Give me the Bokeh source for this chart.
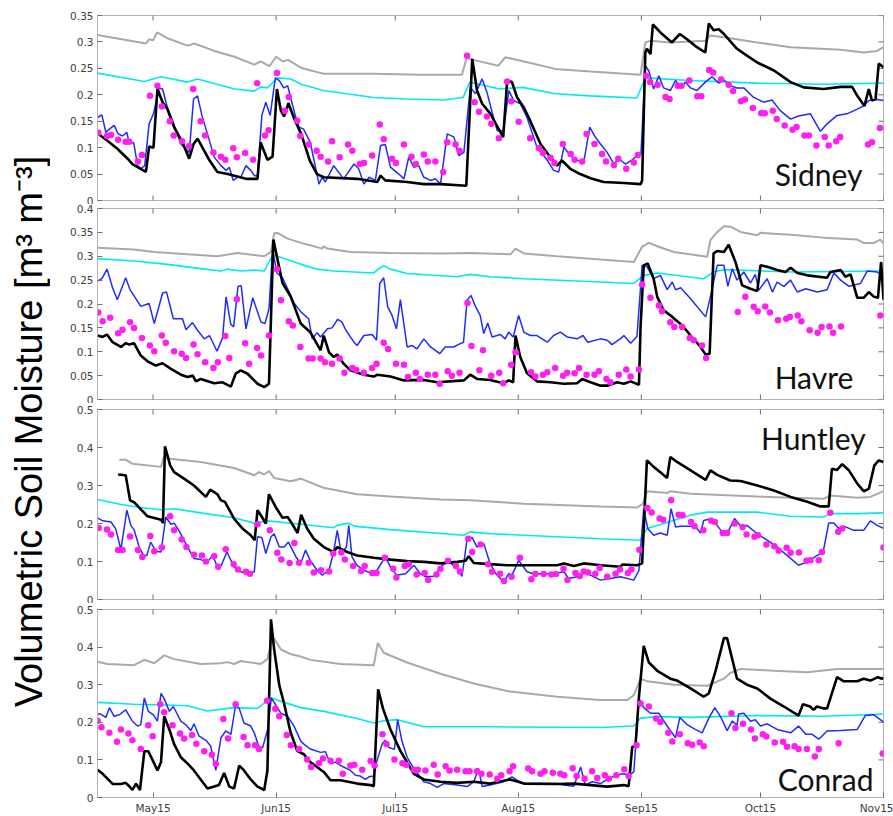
import math
from bokeh.plotting import figure
from bokeh.layouts import column, row
from bokeh.models import Range1d, FixedTicker, LinearAxis, Label
from bokeh.embed import file_html
from bokeh.resources import INLINE

# ---------------- axis data ----------------
x_ticks = [14, 45, 75, 106, 137, 167, 198]          # days after May 1
x_tick_labels = ["May15", "Jun15", "Jul15", "Aug15", "Sep15", "Oct15", "Nov15"]

sidney_yticks = [0, 0.05, 0.1, 0.15, 0.2, 0.25, 0.3, 0.35]
sidney_ylabels = ["0", "0.05", "0.1", "0.15", "0.2", "0.25", "0.3", "0.35"]
havre_yticks = [0, 0.05, 0.1, 0.15, 0.2, 0.25, 0.3, 0.35, 0.4]
havre_ylabels = ["0", "0.05", "0.1", "0.15", "0.2", "0.25", "0.3", "0.35", "0.4"]
huntley_yticks = [0, 0.1, 0.2, 0.3, 0.4, 0.5]
huntley_ylabels = ["0", "0.1", "0.2", "0.3", "0.4", "0.5"]
conrad_yticks = [0, 0.1, 0.2, 0.3, 0.4, 0.5]
conrad_ylabels = ["0", "0.1", "0.2", "0.3", "0.4", "0.5"]

stations = ["Sidney", "Havre", "Huntley", "Conrad"]
y_label = "Volumetric Soil Moisture [m\u00b3 m\u207b\u00b3]"

# ---------------- Sidney ----------------
sidney_gray = [(0,0.313),(12.2,0.297),(13.0,0.305),(14.0,0.303),(15.0,0.318),(17.6,0.307),(22.7,0.293),(24.4,0.297),(29.4,0.283),(34.5,0.272),(39.5,0.257),(41.1,0.263),(43.3,0.254),(45.0,0.272),(46.7,0.263),(48.0,0.266),(51.3,0.251),(53.7,0.246),(56.9,0.240),(69.5,0.240),(81.3,0.238),(91.8,0.238),(93.0,0.270),(94.6,0.266),(101.0,0.255),(102.7,0.271),(106.9,0.264),(115.3,0.249),(124.2,0.244),(136.8,0.238),(138.0,0.299),(139.3,0.302),(144.3,0.299),(153.1,0.302),(154.3,0.312),(157.8,0.309),(166.2,0.299),(174.6,0.290),(187.2,0.285),(193.0,0.280),(196.4,0.283),(198.0,0.290)]
sidney_cyan = [(0,0.241),(11.8,0.225),(16.0,0.234),(22.7,0.224),(25.2,0.230),(34.5,0.211),(39.5,0.207),(41.1,0.215),(42.8,0.213),(45.4,0.232),(48.7,0.230),(51.3,0.220),(56.9,0.208),(69.5,0.195),(77.9,0.192),(87.1,0.190),(92.1,0.195),(93.8,0.224),(101.3,0.211),(107.2,0.214),(115.3,0.202),(124.2,0.198),(135.9,0.194),(138.0,0.232),(149.4,0.227),(166.2,0.222),(182.9,0.220),(198.0,0.222)]
sidney_blue = [(0,0.157),(1.1,0.162),(2.1,0.129),(3.0,0.135),(4.2,0.142),(5.2,0.126),(6.3,0.122),(7.4,0.129),(8.0,0.107),(9.1,0.110),(10.1,0.066),(10.9,0.060),(11.9,0.066),(13.0,0.145),(14.1,0.164),(15.5,0.213),(16.4,0.211),(17.6,0.176),(18.9,0.151),(21.0,0.107),(23.1,0.091),(24.2,0.192),(25.2,0.198),(26.3,0.161),(27.7,0.126),(29.4,0.082),(31.1,0.066),(32.4,0.057),(33.2,0.063),(34.2,0.038),(35.3,0.044),(36.1,0.044),(37.4,0.066),(38.6,0.057),(39.5,0.047),(40.3,0.047),(41.4,0.161),(42.4,0.186),(43.5,0.161),(44.8,0.232),(45.8,0.227),(46.9,0.213),(47.9,0.217),(49.6,0.167),(50.7,0.139),(51.9,0.135),(53.6,0.110),(55.8,0.031),(56.6,0.044),(57.4,0.035),(59.5,0.066),(62.0,0.041),(64.6,0.069),(65.8,0.060),(67.1,0.031),(68.4,0.044),(70.0,0.038),(71.3,0.104),(72.5,0.106),(73.8,0.063),(75.9,0.050),(77.2,0.041),(78.4,0.082),(79.7,0.063),(80.9,0.066),(82.2,0.044),(83.9,0.038),(85.1,0.041),(86.4,0.031),(88.1,0.126),(89.8,0.120),(91.0,0.085),(92.3,0.091),(93.9,0.214),(95.2,0.202),(96.9,0.230),(98.1,0.205),(99.4,0.167),(100.7,0.132),(102.3,0.132),(103.6,0.208),(104.9,0.189),(106.5,0.183),(108.2,0.157),(110.7,0.101),(113.3,0.076),(114.9,0.057),(116.2,0.054),(117.5,0.101),(119.1,0.085),(120.8,0.076),(122.5,0.073),(124.0,0.139),(125.4,0.120),(126.7,0.107),(128.4,0.091),(130.1,0.069),(131.3,0.079),(133.0,0.069),(134.7,0.077),(135.9,0.085),(136.9,0.088),(138.0,0.255),(138.9,0.245),(140.1,0.211),(141.4,0.236),(142.6,0.213),(144.3,0.208),(145.6,0.227),(146.9,0.213),(148.1,0.224),(149.4,0.213),(151.0,0.208),(153.1,0.224),(154.8,0.234),(156.5,0.222),(157.8,0.228),(159.4,0.217),(161.1,0.213),(162.8,0.213),(165.3,0.195),(167.8,0.186),(169.9,0.190),(172.0,0.170),(174.6,0.154),(176.6,0.160),(179.6,0.164),(182.1,0.131),(183.8,0.145),(186.3,0.161),(188.8,0.164),(191.4,0.173),(193.0,0.179),(194.3,0.189),(196.4,0.191),(198.0,0.189)]
sidney_black = [(0,0.127),(2.5,0.113),(5.0,0.098),(7.6,0.079),(8.8,0.069),(10.1,0.063),(12.2,0.054),(13.0,0.102),(14.1,0.100),(15.1,0.211),(16.4,0.186),(17.6,0.173),(19.3,0.139),(21.4,0.110),(23.1,0.079),(24.2,0.107),(25.2,0.117),(26.9,0.094),(28.2,0.076),(30.2,0.054),(32.8,0.050),(34.5,0.047),(37.4,0.041),(40.3,0.041),(41.1,0.110),(42.8,0.077),(44.1,0.083),(45.2,0.211),(46.2,0.170),(47.0,0.159),(48.1,0.184),(49.6,0.154),(51.3,0.126),(53.5,0.075),(55.3,0.050),(57.0,0.044),(65.4,0.041),(70.5,0.035),(71.3,0.047),(72.5,0.038),(78.0,0.035),(82.2,0.031),(86.4,0.031),(92.9,0.028),(94.4,0.268),(95.6,0.208),(96.9,0.183),(99.0,0.164),(100.7,0.140),(102.2,0.120),(103.2,0.227),(104.4,0.224),(105.7,0.195),(107.4,0.176),(109.0,0.151),(111.6,0.107),(114.1,0.082),(115.8,0.066),(117.0,0.076),(119.1,0.060),(121.6,0.050),(124.2,0.042),(127.5,0.035),(132.6,0.033),(136.8,0.031),(137.2,0.038),(138.0,0.280),(138.4,0.287),(139.3,0.277),(139.9,0.333),(141.8,0.318),(144.7,0.299),(146.7,0.315),(148.5,0.305),(151.0,0.290),(153.1,0.280),(154.0,0.335),(155.2,0.322),(156.5,0.324),(157.8,0.315),(161.1,0.287),(163.6,0.274),(166.2,0.261),(170.4,0.246),(174.6,0.224),(177.9,0.214),(182.9,0.211),(187.2,0.215),(190.1,0.215),(191.4,0.198),(193.2,0.179),(194.3,0.211),(195.1,0.189),(196.0,0.192),(196.8,0.259),(198.0,0.252)]
sidney_obs = [(0.2,0.128),(2.4,0.122),(3.4,0.124),(5.2,0.115),(7.1,0.111),(8.0,0.111),(10.2,0.074),(11.2,0.086),(13.2,0.198),(15.1,0.217),(16.2,0.178),(18.2,0.150),(19.2,0.123),(21.3,0.112),(23.1,0.103),(24.1,0.211),(26.0,0.150),(27.1,0.123),(29.2,0.091),(31.1,0.083),(32.2,0.077),(34.2,0.099),(35.1,0.082),(37.2,0.090),(39.2,0.077),(40.2,0.222),(42.2,0.123),(43.1,0.133),(45.2,0.241),(47.2,0.170),(48.2,0.196),(50.3,0.151),(51.1,0.122),(53.2,0.106),(55.2,0.094),(56.2,0.083),(58.1,0.074),(59.1,0.112),(61.0,0.082),(63.1,0.106),(64.2,0.094),(66.1,0.069),(67.1,0.071),(69.2,0.085),(71.1,0.144),(72.1,0.116),(74.2,0.079),(75.2,0.071),(77.2,0.106),(79.1,0.083),(80.2,0.069),(82.2,0.087),(83.2,0.074),(85.1,0.074),(87.1,0.054),(88.1,0.110),(90.2,0.106),(91.2,0.094),(93.1,0.274),(95.0,0.186),(96.1,0.168),(98.1,0.159),(99.2,0.145),(101.1,0.118),(103.2,0.225),(104.2,0.188),(106.1,0.149),(109.0,0.118),(111.2,0.099),(112.2,0.090),(114.1,0.081),(115.1,0.071),(117.2,0.107),(119.2,0.088),(120.2,0.077),(122.1,0.074),(123.2,0.126),(125.2,0.107),(127.1,0.088),(128.1,0.074),(130.1,0.067),(131.2,0.079),(133.2,0.060),(135.1,0.072),(136.1,0.086),(138.2,0.236),(139.2,0.224),(141.1,0.219),(143.1,0.196),(144.1,0.192),(146.2,0.217),(147.1,0.217),(149.1,0.227),(151.1,0.197),(152.1,0.197),(154.1,0.247),(155.1,0.242),(157.1,0.229),(159.0,0.219),(160.1,0.207),(162.1,0.188),(163.1,0.191),(165.1,0.175),(167.2,0.165),(168.1,0.165),(170.1,0.170),(171.1,0.154),(173.1,0.142),(175.1,0.134),(176.1,0.139),(178.1,0.123),(179.2,0.123),(181.1,0.104),(183.2,0.120),(184.2,0.104),(186.1,0.112),(187.1,0.120),(194.1,0.106),(195.1,0.110),(197.1,0.137)]

# ---------------- Havre ----------------
havre_gray = [(0,0.318),(9.2,0.314),(14.3,0.309),(22.7,0.304),(30.2,0.300),(35.3,0.307),(42.0,0.300),(43.7,0.309),(44.5,0.348),(45.3,0.349),(47.9,0.337),(51.3,0.328),(53.6,0.323),(56.6,0.316),(57.0,0.321),(57.9,0.316),(63.7,0.309),(73.8,0.307),(86.4,0.306),(93.9,0.307),(104.0,0.304),(105.3,0.316),(107.4,0.306),(115.8,0.300),(126.7,0.293),(135.1,0.288),(137.2,0.320),(138.9,0.328),(141.0,0.321),(145.2,0.309),(153.6,0.299),(154.4,0.334),(156.1,0.351),(157.8,0.363),(159.4,0.362),(162.0,0.351),(166.2,0.344),(167.0,0.349),(174.6,0.345),(182.9,0.339),(191.4,0.335),(193.0,0.328),(195.6,0.328),(197.2,0.335),(198.0,0.327)]
havre_cyan = [(0,0.295),(9.2,0.290),(17.6,0.283),(26.0,0.274),(31.1,0.269),(32.7,0.273),(36.1,0.269),(39.5,0.271),(42.0,0.269),(44.1,0.302),(45.3,0.300),(51.3,0.283),(55.3,0.273),(59.5,0.269),(69.6,0.265),(70.9,0.274),(72.1,0.280),(73.8,0.273),(78.0,0.264),(90.6,0.257),(93.9,0.262),(98.9,0.257),(107.4,0.253),(126.7,0.246),(135.1,0.243),(137.6,0.260),(141.0,0.265),(152.7,0.253),(155.2,0.267),(157.8,0.272),(174.6,0.267),(198.0,0.269)]
havre_blue = [(0,0.248),(1.1,0.253),(2.4,0.273),(3.8,0.234),(5.0,0.209),(7.1,0.255),(8.2,0.230),(10.9,0.195),(13.0,0.201),(14.3,0.159),(16.4,0.223),(17.4,0.225),(19.1,0.169),(21.4,0.169),(22.3,0.146),(23.9,0.161),(25.2,0.145),(26.9,0.127),(28.2,0.134),(30.1,0.101),(31.5,0.129),(32.4,0.215),(33.6,0.157),(34.3,0.152),(35.4,0.237),(36.2,0.238),(37.4,0.148),(39.1,0.213),(41.2,0.162),(42.2,0.159),(43.2,0.190),(44.1,0.314),(45.2,0.265),(46.6,0.255),(47.9,0.232),(49.6,0.201),(51.3,0.183),(53.2,0.169),(54.1,0.127),(55.3,0.140),(56.2,0.131),(57.9,0.148),(59.1,0.150),(60.5,0.168),(61.6,0.162),(62.5,0.146),(64.6,0.120),(65.4,0.113),(67.1,0.134),(69.2,0.136),(70.3,0.124),(71.1,0.243),(72.1,0.255),(73.1,0.194),(74.2,0.176),(75.3,0.148),(76.3,0.209),(78.0,0.110),(79.3,0.113),(80.5,0.106),(82.2,0.127),(83.9,0.110),(85.1,0.103),(86.2,0.096),(87.6,0.110),(89.7,0.110),(91.4,0.117),(92.2,0.120),(93.1,0.208),(94.1,0.218),(95.2,0.195),(96.4,0.176),(97.3,0.138),(98.3,0.160),(99.4,0.131),(101.5,0.136),(102.7,0.127),(103.6,0.141),(104.7,0.131),(106.1,0.176),(107.4,0.141),(109.0,0.134),(110.7,0.134),(113.3,0.120),(114.9,0.134),(116.6,0.141),(118.3,0.131),(120.8,0.127),(122.3,0.134),(123.5,0.120),(126.7,0.127),(128.4,0.124),(129.6,0.115),(131.7,0.127),(132.6,0.134),(134.3,0.118),(135.9,0.132),(137.2,0.281),(138.4,0.278),(140.1,0.253),(141.8,0.260),(143.5,0.230),(144.8,0.246),(145.6,0.230),(146.9,0.234),(149.4,0.211),(153.2,0.173),(154.4,0.215),(156.1,0.281),(157.8,0.281),(158.8,0.237),(159.9,0.274),(161.1,0.250),(162.8,0.267),(164.5,0.244),(165.7,0.262),(166.6,0.229),(168.7,0.253),(170.0,0.225),(171.2,0.246),(172.9,0.237),(174.6,0.250),(176.3,0.225),(178.4,0.232),(181.3,0.225),(183.8,0.230),(185.5,0.265),(187.2,0.250),(189.3,0.237),(192.2,0.243),(193.9,0.269),(196.4,0.267),(198.0,0.257)]
havre_black = [(0,0.134),(1.3,0.131),(2.4,0.136),(3.8,0.120),(5.9,0.110),(7.1,0.118),(8.0,0.115),(9.2,0.118),(10.9,0.092),(12.6,0.080),(14.7,0.071),(16.4,0.076),(18.5,0.064),(21.0,0.052),(22.7,0.047),(24.0,0.050),(24.8,0.038),(26.0,0.043),(29.4,0.034),(31.5,0.036),(33.6,0.027),(34.8,0.054),(36.1,0.061),(37.8,0.054),(40.3,0.033),(42.0,0.026),(43.2,0.033),(44.3,0.335),(45.3,0.295),(46.6,0.244),(48.7,0.215),(51.2,0.159),(53.6,0.141),(56.2,0.103),(57.0,0.134),(58.3,0.099),(59.5,0.089),(60.4,0.094),(62.0,0.075),(63.7,0.061),(67.1,0.052),(69.6,0.048),(70.5,0.052),(73.8,0.048),(77.2,0.040),(82.2,0.041),(85.6,0.036),(92.3,0.040),(93.9,0.052),(95.6,0.043),(98.9,0.041),(102.3,0.034),(103.6,0.040),(104.7,0.036),(105.3,0.134),(106.5,0.089),(108.2,0.055),(110.7,0.038),(114.1,0.036),(117.5,0.033),(120.8,0.034),(122.1,0.043),(124.2,0.036),(126.7,0.029),(128.4,0.029),(130.9,0.036),(132.6,0.033),(134.3,0.038),(136.4,0.031),(136.8,0.152),(137.6,0.281),(138.6,0.285),(140.1,0.253),(141.0,0.215),(142.6,0.187),(144.8,0.173),(147.3,0.155),(149.4,0.134),(151.9,0.110),(153.2,0.094),(154.2,0.096),(155.2,0.306),(156.1,0.311),(157.8,0.309),(159.0,0.324),(160.7,0.288),(162.4,0.239),(164.5,0.232),(166.2,0.227),(167.0,0.281),(168.7,0.278),(171.2,0.271),(173.3,0.267),(174.6,0.276),(176.3,0.265),(178.8,0.260),(183.8,0.255),(184.6,0.267),(187.2,0.271),(188.4,0.257),(189.7,0.262),(191.4,0.213),(193.0,0.213),(194.3,0.225),(195.6,0.215),(196.6,0.213),(197.4,0.288),(198.0,0.209)]
havre_obs = [(0.2,0.182),(1.3,0.164),(3.2,0.171),(5.2,0.139),(6.3,0.146),(8.2,0.162),(9.2,0.150),(11.2,0.129),(13.2,0.113),(14.3,0.101),(16.2,0.134),(17.2,0.119),(19.3,0.101),(21.2,0.096),(22.3,0.087),(24.2,0.115),(25.2,0.095),(27.1,0.078),(29.2,0.066),(30.3,0.078),(32.2,0.133),(33.2,0.087),(35.1,0.210),(37.2,0.118),(38.2,0.075),(40.2,0.108),(41.2,0.092),(43.2,0.134),(45.2,0.273),(46.2,0.208),(48.2,0.164),(49.2,0.155),(51.1,0.110),(53.2,0.086),(54.2,0.086),(56.2,0.086),(57.3,0.078),(59.1,0.075),(61.0,0.086),(62.2,0.056),(64.2,0.066),(65.2,0.062),(67.1,0.056),(69.2,0.066),(70.3,0.075),(72.1,0.119),(73.2,0.106),(75.2,0.075),(77.2,0.073),(78.2,0.047),(80.2,0.056),(81.2,0.043),(83.2,0.052),(85.1,0.052),(86.2,0.033),(88.2,0.059),(89.3,0.050),(91.2,0.056),(93.2,0.202),(94.2,0.112),(96.2,0.061),(97.1,0.103),(99.2,0.050),(101.2,0.056),(102.2,0.034),(104.2,0.073),(105.3,0.099),(109.2,0.057),(110.3,0.048),(112.2,0.052),(113.3,0.057),(115.3,0.066),(117.3,0.050),(118.3,0.056),(120.2,0.055),(121.3,0.066),(123.2,0.052),(125.2,0.052),(126.3,0.059),(128.2,0.043),(129.2,0.036),(131.3,0.052),(133.2,0.063),(134.3,0.048),(136.4,0.063),(137.2,0.241),(139.3,0.213),(141.4,0.197),(142.2,0.185),(144.3,0.162),(145.3,0.152),(147.3,0.152),(149.2,0.129),(150.2,0.124),(152.3,0.113),(153.3,0.087),(161.3,0.183),(163.2,0.215),(165.3,0.194),(166.3,0.185),(168.2,0.195),(169.4,0.182),(171.4,0.166),(173.5,0.169),(174.4,0.173),(176.4,0.176),(177.3,0.164),(179.4,0.145),(181.4,0.140),(182.4,0.152),(184.4,0.153),(185.3,0.140),(187.3,0.153),(197.2,0.176)]

# ---------------- Huntley ----------------
huntley_gray = [(5.5,0.368),(7.1,0.368),(8.8,0.357),(16.0,0.349),(16.8,0.377),(17.6,0.371),(26.0,0.362),(34.4,0.346),(39.5,0.327),(40.7,0.335),(42.0,0.329),(43.2,0.338),(44.5,0.320),(48.7,0.311),(51.2,0.318),(56.9,0.294),(65.4,0.277),(73.8,0.271),(86.4,0.263),(93.9,0.261),(107.4,0.252),(126.7,0.245),(135.9,0.242),(137.4,0.252),(138.4,0.285),(143.5,0.280),(144.3,0.285),(149.4,0.278),(166.2,0.271),(182.9,0.265),(184.6,0.274),(191.4,0.268),(194.7,0.270),(198.0,0.285)]
huntley_cyan = [(0,0.263),(5.9,0.250),(10.9,0.242),(16.0,0.236),(19.3,0.239),(26.0,0.228),(34.4,0.215),(39.5,0.201),(42.8,0.207),(51.2,0.198),(59.5,0.189),(60.4,0.195),(63.3,0.201),(64.6,0.193),(73.8,0.184),(92.3,0.169),(93.9,0.178),(98.9,0.173),(126.7,0.160),(136.8,0.156),(138.4,0.187),(141.0,0.195),(149.4,0.222),(153.6,0.230),(166.2,0.230),(174.6,0.219),(182.9,0.217),(184.6,0.226),(191.4,0.226),(198.0,0.228)]
huntley_blue = [(0,0.215),(1.3,0.207),(3.4,0.204),(4.6,0.186),(5.9,0.131),(7.4,0.235),(8.4,0.195),(9.2,0.184),(10.5,0.138),(11.6,0.116),(12.4,0.116),(13.4,0.151),(14.7,0.127),(16.0,0.125),(17.2,0.217),(18.5,0.198),(19.3,0.201),(20.6,0.180),(22.7,0.138),(24.3,0.108),(26.0,0.105),(27.7,0.099),(29.0,0.116),(30.2,0.086),(31.2,0.090),(32.6,0.125),(34.4,0.086),(36.1,0.073),(37.8,0.068),(39.5,0.073),(40.3,0.165),(41.4,0.163),(42.4,0.121),(43.7,0.165),(44.5,0.173),(45.8,0.138),(47.0,0.138),(48.1,0.151),(50.0,0.112),(51.2,0.095),(52.4,0.130),(53.6,0.103),(55.3,0.077),(56.6,0.064),(58.3,0.077),(59.4,0.121),(60.4,0.182),(61.4,0.121),(62.7,0.138),(63.3,0.195),(64.1,0.112),(65.4,0.090),(67.1,0.077),(69.2,0.068),(70.3,0.075),(72.5,0.112),(73.8,0.086),(75.3,0.064),(77.6,0.068),(79.7,0.090),(81.3,0.068),(82.6,0.060),(84.7,0.061),(85.9,0.077),(88.1,0.103),(89.7,0.090),(91.0,0.077),(91.8,0.061),(93.1,0.158),(94.4,0.163),(95.6,0.138),(97.3,0.147),(98.9,0.095),(100.2,0.070),(102.3,0.046),(103.6,0.068),(104.4,0.064),(106.1,0.103),(108.2,0.073),(109.9,0.067),(112.4,0.068),(114.9,0.068),(117.5,0.073),(118.7,0.055),(120.8,0.060),(122.5,0.073),(124.2,0.064),(126.7,0.051),(129.2,0.055),(131.7,0.060),(135.1,0.051),(136.4,0.077),(137.6,0.239),(138.6,0.187),(140.1,0.169),(141.8,0.175),(143.5,0.169),(144.5,0.239),(145.6,0.191),(146.9,0.193),(149.4,0.193),(151.0,0.187),(151.9,0.175),(152.7,0.208),(154.8,0.213),(156.1,0.195),(157.3,0.178),(159.0,0.182),(160.5,0.213),(162.0,0.193),(163.6,0.195),(166.2,0.173),(168.7,0.156),(171.2,0.138),(173.7,0.116),(176.6,0.090),(178.8,0.099),(181.3,0.116),(182.8,0.125),(184.2,0.201),(185.5,0.201),(186.7,0.187),(188.0,0.193),(190.5,0.182),(193.0,0.182),(194.7,0.207),(196.4,0.195),(198.0,0.187)]
huntley_black = [(5.2,0.329),(7.1,0.327),(8.2,0.261),(9.2,0.256),(12.6,0.219),(16.0,0.210),(16.5,0.201),(17.0,0.403),(18.3,0.353),(19.3,0.335),(21.8,0.318),(24.3,0.300),(27.3,0.270),(28.4,0.289),(30.2,0.277),(31.1,0.261),(32.1,0.257),(34.4,0.213),(36.5,0.187),(38.6,0.169),(39.6,0.156),(40.3,0.235),(41.3,0.219),(42.4,0.200),(43.2,0.277),(44.9,0.243),(46.6,0.215),(47.9,0.217),(48.9,0.201),(50.4,0.175),(51.3,0.223),(52.8,0.187),(54.5,0.160),(57.0,0.138),(59.5,0.125),(60.4,0.138),(62.9,0.125),(65.4,0.116),(69.6,0.110),(73.8,0.105),(78.0,0.101),(82.2,0.099),(86.4,0.095),(90.6,0.099),(92.7,0.102),(93.5,0.114),(94.8,0.096),(98.9,0.093),(103.2,0.090),(107.4,0.090),(115.8,0.090),(117.5,0.095),(120.0,0.088),(122.5,0.095),(126.7,0.090),(131.7,0.086),(132.2,0.092),(135.9,0.090),(137.2,0.095),(138.4,0.366),(140.1,0.349),(141.8,0.335),(143.5,0.320),(144.3,0.375),(146.0,0.362),(149.4,0.340),(153.2,0.315),(154.4,0.340),(156.1,0.328),(159.4,0.313),(162.0,0.312),(166.2,0.300),(170.4,0.287),(174.6,0.270),(178.8,0.257),(182.1,0.245),(184.2,0.245),(185.0,0.344),(186.3,0.341),(187.6,0.356),(189.2,0.341),(191.4,0.305),(193.0,0.285),(194.3,0.291),(195.7,0.353),(196.8,0.366),(198.0,0.362)]
huntley_obs = [(0.3,0.188),(2.4,0.184),(3.4,0.171),(5.2,0.130),(6.3,0.130),(8.2,0.166),(10.2,0.130),(11.3,0.112),(13.3,0.167),(14.3,0.127),(16.2,0.137),(18.3,0.219),(19.3,0.182),(21.2,0.158),(22.4,0.138),(24.3,0.118),(26.3,0.116),(27.3,0.100),(29.4,0.114),(30.4,0.086),(32.3,0.132),(34.3,0.093),(35.4,0.079),(37.4,0.073),(38.4,0.068),(40.3,0.198),(43.4,0.182),(45.3,0.123),(46.3,0.105),(48.4,0.096),(49.6,0.149),(50.8,0.097),(53.2,0.097),(54.5,0.071),(56.3,0.077),(58.3,0.074),(59.4,0.121),(61.4,0.124),(62.3,0.105),(64.4,0.088),(66.4,0.075),(67.3,0.088),(69.2,0.070),(70.3,0.070),(72.4,0.110),(74.5,0.081),(75.3,0.058),(77.4,0.088),(78.4,0.093),(80.4,0.066),(82.4,0.070),(83.3,0.051),(85.4,0.066),(86.4,0.081),(88.3,0.102),(90.3,0.088),(91.3,0.074),(93.4,0.160),(94.4,0.125),(96.5,0.145),(98.4,0.093),(99.4,0.073),(101.4,0.068),(102.4,0.049),(104.3,0.060),(106.4,0.110),(109.3,0.053),(110.3,0.067),(112.4,0.067),(114.3,0.066),(115.5,0.067),(117.4,0.081),(118.4,0.051),(120.4,0.070),(121.5,0.062),(122.5,0.074),(123.6,0.071),(125.4,0.068),(126.5,0.083),(128.4,0.060),(130.5,0.068),(131.6,0.079),(133.6,0.070),(134.5,0.079),(136.5,0.131),(138.5,0.241),(139.6,0.229),(141.6,0.213),(142.5,0.210),(144.5,0.261),(146.4,0.223),(147.4,0.222),(149.5,0.204),(150.4,0.193),(152.6,0.182),(154.6,0.207),(155.5,0.204),(157.5,0.175),(158.6,0.175),(160.5,0.200),(162.5,0.191),(163.5,0.171),(165.5,0.165),(166.4,0.169),(168.5,0.145),(170.5,0.140),(171.6,0.128),(173.6,0.136),(174.6,0.123),(176.7,0.124),(178.6,0.102),(179.6,0.103),(181.7,0.103),(182.5,0.125),(184.6,0.228),(186.6,0.178),(187.6,0.187),(198.0,0.137)]

# ---------------- Conrad ----------------
conrad_gray = [(0,0.361),(2.5,0.355),(9.2,0.352),(11.8,0.366),(14.3,0.357),(16.8,0.378),(19.3,0.368),(26.0,0.355),(31.1,0.357),(32.7,0.360),(34.4,0.355),(36.1,0.363),(41.1,0.355),(42.8,0.368),(44.1,0.429),(46.2,0.394),(48.7,0.381),(51.2,0.375),(53.6,0.366),(61.2,0.355),(69.6,0.352),(70.6,0.411),(72.1,0.385),(78.0,0.359),(86.4,0.329),(94.8,0.303),(103.2,0.283),(115.8,0.268),(126.7,0.259),(133.4,0.259),(135.1,0.272),(136.8,0.316),(138.5,0.309),(145.2,0.300),(153.6,0.297),(157.8,0.316),(159.4,0.331),(162.0,0.342),(170.4,0.337),(178.8,0.333),(186.3,0.342),(198.0,0.342)]
conrad_cyan = [(0,0.253),(9.2,0.248),(17.6,0.246),(22.7,0.244),(27.7,0.230),(34.4,0.239),(40.3,0.237),(43.7,0.265),(45.3,0.259),(51.2,0.239),(57.0,0.229),(65.4,0.210),(69.6,0.198),(72.1,0.204),(75.5,0.207),(82.2,0.188),(98.9,0.188),(126.7,0.186),(135.1,0.190),(136.8,0.211),(141.0,0.215),(149.4,0.213),(166.2,0.218),(182.9,0.216),(198.0,0.222)]
conrad_blue = [(0,0.222),(0.8,0.222),(2.1,0.213),(3.0,0.239),(4.2,0.216),(5.5,0.220),(7.1,0.233),(8.8,0.203),(10.1,0.190),(10.9,0.194),(11.8,0.265),(12.8,0.229),(14.1,0.220),(15.1,0.203),(16.0,0.277),(16.8,0.263),(18.1,0.229),(19.1,0.242),(21.0,0.203),(22.2,0.194),(23.5,0.178),(24.3,0.196),(25.6,0.163),(27.3,0.152),(28.5,0.137),(29.8,0.072),(31.1,0.159),(32.3,0.177),(33.6,0.168),(34.8,0.246),(35.7,0.237),(36.9,0.198),(38.6,0.190),(39.5,0.172),(40.7,0.133),(41.6,0.133),(42.8,0.178),(43.8,0.265),(44.9,0.246),(46.2,0.224),(47.9,0.216),(49.5,0.190),(51.2,0.150),(52.0,0.142),(53.6,0.129),(56.2,0.120),(57.4,0.122),(57.9,0.109),(58.7,0.090),(59.9,0.094),(61.6,0.083),(63.7,0.072),(65.0,0.059),(66.2,0.057),(67.5,0.048),(68.4,0.055),(69.6,0.057),(70.3,0.094),(71.7,0.142),(72.5,0.152),(73.4,0.133),(74.8,0.128),(75.6,0.207),(76.7,0.150),(78.0,0.107),(79.7,0.077),(82.2,0.042),(83.9,0.037),(85.6,0.027),(87.2,0.037),(90.6,0.033),(93.1,0.029),(94.8,0.042),(96.0,0.077),(96.9,0.029),(98.9,0.033),(102.3,0.042),(104.4,0.055),(105.7,0.046),(107.4,0.037),(111.6,0.037),(115.8,0.037),(117.5,0.033),(120.0,0.030),(121.7,0.081),(122.9,0.033),(124.6,0.042),(126.7,0.037),(127.5,0.042),(128.8,0.050),(130.5,0.059),(132.6,0.063),(133.8,0.059),(135.1,0.068),(136.4,0.263),(137.6,0.239),(139.3,0.224),(141.4,0.224),(143.5,0.190),(145.6,0.159),(146.7,0.213),(148.5,0.194),(150.6,0.181),(152.3,0.172),(154.0,0.211),(155.5,0.239),(156.9,0.216),(158.6,0.178),(159.9,0.203),(161.1,0.192),(161.5,0.222),(162.8,0.224),(164.5,0.203),(165.7,0.207),(167.0,0.190),(168.7,0.196),(171.2,0.181),(174.6,0.172),(176.6,0.190),(178.4,0.168),(180.0,0.168),(181.7,0.155),(183.8,0.177),(187.2,0.178),(191.4,0.181),(193.4,0.218),(195.6,0.220),(197.6,0.204),(198.0,0.200)]
conrad_black = [(0,0.074),(1.3,0.063),(2.5,0.050),(3.8,0.036),(5.9,0.036),(7.1,0.039),(8.0,0.030),(8.8,0.020),(9.7,0.037),(10.7,0.020),(11.8,0.123),(12.8,0.123),(14.3,0.090),(15.1,0.072),(16.0,0.094),(16.8,0.216),(18.1,0.181),(19.3,0.142),(21.0,0.107),(22.7,0.090),(24.3,0.072),(26.0,0.048),(27.7,0.024),(29.4,0.029),(30.6,0.033),(31.9,0.065),(33.2,0.029),(34.4,0.024),(35.7,0.085),(36.9,0.072),(38.6,0.048),(40.3,0.029),(42.0,0.020),(42.8,0.072),(43.7,0.474),(44.5,0.394),(45.8,0.298),(47.0,0.250),(48.6,0.175),(50.3,0.124),(52.0,0.115),(53.6,0.094),(55.3,0.081),(57.0,0.068),(58.7,0.046),(61.2,0.046),(65.4,0.037),(68.8,0.033),(69.6,0.030),(70.7,0.288),(71.9,0.237),(73.8,0.181),(76.3,0.124),(79.7,0.063),(82.2,0.048),(86.4,0.042),(90.6,0.039),(94.8,0.042),(98.9,0.037),(104.0,0.048),(107.4,0.037),(115.8,0.036),(120.0,0.037),(124.2,0.033),(128.4,0.029),(132.6,0.033),(133.8,0.030),(134.7,0.135),(135.5,0.135),(136.4,0.268),(137.6,0.403),(138.9,0.359),(141.0,0.337),(144.3,0.316),(146.0,0.311),(149.4,0.290),(152.7,0.268),(154.0,0.277),(155.7,0.337),(157.8,0.424),(158.6,0.424),(161.1,0.316),(163.6,0.300),(166.2,0.290),(169.5,0.263),(172.9,0.242),(176.6,0.218),(177.7,0.248),(179.5,0.242),(180.4,0.233),(181.2,0.242),(182.9,0.237),(183.8,0.237),(186.3,0.320),(188.0,0.309),(191.4,0.309),(193.0,0.316),(194.7,0.311),(196.6,0.320),(197.6,0.316),(198.0,0.318)]
conrad_obs = [(0,0.204),(1.0,0.187),(3.0,0.172),(4.9,0.148),(5.9,0.181),(7.8,0.170),(8.8,0.152),(10.9,0.129),(12.8,0.192),(13.9,0.163),(15.8,0.248),(16.8,0.227),(18.9,0.192),(20.8,0.170),(21.8,0.157),(23.8,0.166),(24.9,0.143),(26.9,0.123),(28.8,0.114),(29.8,0.090),(31.7,0.209),(32.9,0.157),(34.8,0.248),(36.8,0.161),(37.8,0.139),(39.7,0.139),(40.7,0.129),(42.7,0.257),(44.8,0.236),(45.8,0.216),(47.7,0.166),(48.7,0.139),(50.8,0.129),(52.8,0.101),(53.8,0.081),(55.8,0.091),(56.8,0.104),(58.7,0.098),(60.8,0.098),(61.8,0.063),(63.7,0.085),(64.7,0.087),(66.7,0.074),(68.8,0.097),(69.8,0.085),(71.8,0.168),(72.8,0.142),(74.8,0.101),(76.8,0.091),(77.8,0.087),(79.7,0.074),(80.7,0.074),(82.6,0.072),(84.7,0.087),(85.7,0.061),(87.7,0.083),(88.7,0.072),(90.6,0.074),(92.7,0.070),(93.7,0.070),(95.6,0.070),(96.7,0.063),(98.8,0.061),(100.7,0.050),(101.7,0.059),(103.8,0.070),(104.7,0.083),(108.5,0.077),(109.5,0.070),(111.6,0.063),(112.6,0.070),(114.7,0.066),(116.6,0.063),(117.6,0.059),(119.7,0.078),(120.7,0.057),(122.7,0.050),(124.6,0.070),(125.9,0.052),(127.8,0.059),(128.8,0.050),(130.7,0.059),(132.7,0.075),(133.8,0.057),(135.8,0.139),(136.8,0.250),(138.9,0.242),(140.7,0.210),(141.8,0.201),(143.8,0.172),(144.8,0.149),(146.7,0.168),(148.7,0.144),(149.8,0.140),(151.7,0.146),(152.7,0.136),(159.7,0.224),(160.7,0.185),(162.6,0.196),(164.6,0.181),(165.6,0.157),(167.6,0.168),(168.5,0.162),(170.6,0.146),(172.7,0.148),(173.7,0.135),(175.6,0.136),(176.6,0.129),(178.7,0.129),(180.7,0.109),(181.7,0.129),(186.7,0.144),(197.8,0.117)]

# ---------------- styling ----------------
FRAME = "#b4b4b4"
TICK_COLOR = "#707070"
TICK_TEXT = "#404040"
TICK_FONT = "DejaVu Sans"
C_GRAY, C_CYAN, C_BLUE, C_BLACK, C_MAG = "#a9a9a9", "#00eaf2", "#1f2bff", "#000000", "#ff20f0"
X_END = 198


def xy(pairs):
    return [p[0] for p in pairs], [p[1] for p in pairs]


def style_axis(ax):
    ax.axis_line_color = FRAME
    ax.major_tick_line_color = TICK_COLOR
    ax.major_tick_in = 5
    ax.major_tick_out = 0
    ax.minor_tick_line_color = None
    ax.major_label_text_color = TICK_TEXT
    ax.major_label_text_font = TICK_FONT
    ax.major_label_text_font_size = "10.5px"
    ax.major_label_standoff = 4


def make_panel(height, top_b, bottom_b, ymax, yticks, ylabels, gray, cyan, blue, black, obs,
               station, lab_x, lab_y, show_x):
    p = figure(width=843, height=height, x_range=Range1d(0, X_END), y_range=Range1d(0, ymax),
               output_backend="svg", toolbar_location=None,
               x_axis_location=None, y_axis_location=None,
               min_border_left=47, min_border_right=10,
               min_border_top=top_b, min_border_bottom=bottom_b)
    p.outline_line_color = FRAME
    p.background_fill_color = "white"
    p.border_fill_color = "white"
    p.grid.visible = False

    left = LinearAxis(ticker=FixedTicker(ticks=yticks),
                      major_label_overrides=dict(zip(yticks, ylabels)))
    style_axis(left)
    p.add_layout(left, "left")

    if show_x:
        bottom = LinearAxis(ticker=FixedTicker(ticks=x_ticks),
                            major_label_overrides=dict(zip(x_ticks, x_tick_labels)))
        style_axis(bottom)
        p.add_layout(bottom, "below")
    else:
        # inward tick marks on the bottom edge (no labels)
        p.scatter(x_ticks, [0] * len(x_ticks), marker="dash", angle=math.pi / 2, size=10,
                  line_color=TICK_COLOR, line_width=1)
    # inward tick marks on top and right edges
    p.scatter(x_ticks, [ymax] * len(x_ticks), marker="dash", angle=math.pi / 2, size=10,
              line_color=TICK_COLOR, line_width=1)
    p.scatter([X_END] * len(yticks), yticks, marker="dash", size=10,
              line_color=TICK_COLOR, line_width=1)

    gx, gy = xy(gray)
    p.line(gx, gy, line_color=C_GRAY, line_width=2)
    cx, cy = xy(cyan)
    p.line(cx, cy, line_color=C_CYAN, line_width=1.6)
    bx, by = xy(blue)
    p.line(bx, by, line_color=C_BLUE, line_width=1.5)
    kx, ky = xy(black)
    p.line(kx, ky, line_color=C_BLACK, line_width=2.6)
    ox, oy = xy(obs)
    p.scatter(ox, oy, marker="circle", size=6.5, fill_color=C_MAG, line_color=None)

    p.add_layout(Label(x=lab_x, y=lab_y, text=station, text_align="right",
                       text_baseline="middle", text_font="Lato",
                       text_font_size="30px", text_color="#111111"))
    return p


p1 = make_panel(204, 15, 4, 0.35, sidney_yticks, sidney_ylabels, sidney_gray, sidney_cyan,
                sidney_blue, sidney_black, sidney_obs, stations[0], 192.7, 0.051, False)
p2 = make_panel(199, 4, 4, 0.4, havre_yticks, havre_ylabels, havre_gray, havre_cyan,
                havre_blue, havre_black, havre_obs, stations[1], 190.4, 0.048, False)
p3 = make_panel(200, 6, 4, 0.5, huntley_yticks, huntley_ylabels, huntley_gray, huntley_cyan,
                huntley_blue, huntley_black, huntley_obs, stations[2], 193.5, 0.426, False)
p4 = make_panel(213, 6, 15, 0.5, conrad_yticks, conrad_ylabels, conrad_gray, conrad_cyan,
                conrad_blue, conrad_black, conrad_obs, stations[3], 195.5, 0.049, True)

# y label strip
lab = figure(width=50, height=816, x_range=Range1d(0, 50), y_range=Range1d(0, 816),
             output_backend="svg", toolbar_location=None,
             x_axis_location=None, y_axis_location=None, min_border=0)
lab.outline_line_color = None
lab.grid.visible = False
lab.add_layout(Label(x=28, y=385, text=y_label, angle=math.pi / 2, text_align="center",
                     text_baseline="middle", text_font="Liberation Sans",
                     text_font_size="38px", text_color="#000000"))

layout = row(lab, column(p1, p2, p3, p4, spacing=0), spacing=0)
open("out.html", "w").write(file_html(layout, INLINE))
